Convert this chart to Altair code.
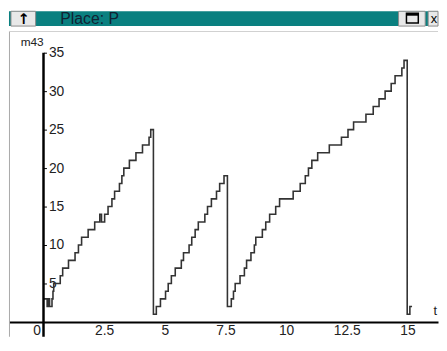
import altair as alt
import pandas as pd

# ---- data (time t, token count m43) ----
T = [0.00, 0.15, 0.20, 0.25, 0.35, 0.39, 0.42, 0.69, 0.79, 1.03, 1.30, 1.44, 1.57, 1.84,
     2.11, 2.32, 2.39, 2.52, 2.66, 2.82, 2.93, 3.13, 3.23, 3.31, 3.54, 3.81, 4.08, 4.35,
     4.42, 4.53,
     4.65, 4.82, 5.03, 5.14, 5.27, 5.43, 5.68, 5.77, 6.00, 6.11, 6.25, 6.38, 6.65, 6.76,
     6.92, 7.13, 7.26, 7.44, 7.58,
     7.74, 7.83, 7.90, 8.10, 8.28, 8.37, 8.55, 8.69, 8.75, 9.02, 9.16, 9.32, 9.57, 9.73,
     10.29, 10.58, 10.79, 10.92, 11.06, 11.30, 11.78, 12.28, 12.55, 12.78, 13.29, 13.59,
     13.83, 14.08, 14.33, 14.49, 14.77, 14.86, 14.99, 15.10, 15.19]
V = [3, 2, 3, 2, 3, 4, 5, 6, 7, 8, 9, 10, 11, 12,
     13, 14, 13, 14, 15, 16, 17, 18, 19, 20, 21, 22, 23, 24,
     25, 1,
     2, 3, 4, 5, 6, 7, 8, 9, 10, 11, 12, 13, 14, 15,
     16, 17, 18, 19, 2,
     3, 4, 5, 6, 7, 8, 9, 10, 11, 12, 13, 14, 15, 16,
     17, 18, 19, 20, 21, 22, 23, 24, 25, 26, 27, 28,
     29, 30, 31, 32, 33, 34, 1, 2, 2]

X_TICKS = [0, 2.5, 5, 7.5, 10, 12.5, 15]
Y_TICKS = [5, 10, 15, 20, 25, 30, 35]
X_LABEL = "t"
Y_LABEL = "m43"
WINDOW_TITLE = "Place: P"

# ---- layout ----
W = 435
H_BAR = 15
GAP = 3
H = 310
X0_PX = 35
PX_PER_T = 24.6
YTOP_PX = 22
Y0_PX = 295
T_MIN = -X0_PX / PX_PER_T
T_MAX = (W - X0_PX) / PX_PER_T
PX_PER_V = (Y0_PX - YTOP_PX) / Y_TICKS[-1]
V_MAX = Y_TICKS[-1] + YTOP_PX / PX_PER_V
V_MIN = -(H - Y0_PX) / PX_PER_V

FONT = "Liberation Sans"
LABEL_COLOR = "#222222"
TEAL = "#0a8080"

df = pd.DataFrame({"t": T, "v": V})
xscale = alt.Scale(domain=[T_MIN, T_MAX], nice=False, zero=False)
yscale = alt.Scale(domain=[V_MIN, V_MAX], nice=False, zero=False)

x_axis = alt.Axis(
    orient="bottom", offset=-(H - Y0_PX), values=X_TICKS, format=".1~f",
    domain=True, domainColor="#000000", domainWidth=2, ticks=False, grid=False,
    labelFont=FONT, labelFontSize=14, labelColor=LABEL_COLOR, labelPadding=2,
    labelFlush=False, labelOverlap=False,
    labelAlign={"condition": {"test": "datum.value == 0", "value": "right"}, "value": "center"},
    labelOffset={"condition": {"test": "datum.value == 0", "value": -3}, "value": 0},
    title=X_LABEL, titleX=W - 5, titleY=-12, titleAlign="left", titleBaseline="middle",
    titleFont=FONT, titleFontSize=13, titleFontWeight="normal", titleColor=LABEL_COLOR)
y_axis = alt.Axis(
    orient="right", offset=-(W - X0_PX), values=Y_TICKS,
    domain=False, ticks=True, tickSize=3, tickColor="#000000", tickWidth=1, grid=False,
    labelFont=FONT, labelFontSize=14, labelColor=LABEL_COLOR, labelPadding=2,
    labelFlush=False, labelOverlap=False, labelBaseline="middle",
    title=Y_LABEL, titleAngle=0, titleX=-12, titleY=11, titleAlign="center",
    titleBaseline="middle", titleFont=FONT, titleFontSize=12,
    titleFontWeight="normal", titleColor=LABEL_COLOR)

line = alt.Chart(df).mark_line(
    interpolate="step-after", color="#333333", strokeWidth=1.6
).encode(
    x=alt.X("t:Q", scale=xscale, axis=x_axis),
    y=alt.Y("v:Q", scale=yscale, axis=y_axis),
)

axis_df = pd.DataFrame({"t": [0], "v": [Y_TICKS[-1]]})
yaxis_line = alt.Chart(axis_df).mark_rule(color="#000000", strokeWidth=2.5).encode(
    x=alt.X("t:Q", scale=xscale, axis=x_axis),
    y=alt.Y("v:Q", scale=yscale, axis=y_axis),
    y2=alt.value(H),
)

one = pd.DataFrame({"k": [0]})
border_left = alt.Chart(one).mark_rule(color="#a8a8a8", strokeWidth=1).encode(
    x=alt.value(0.5), y=alt.value(0), y2=alt.value(H))
border_top = alt.Chart(one).mark_rule(color="#d0d0d0", strokeWidth=1).encode(
    x=alt.value(0), x2=alt.value(W), y=alt.value(0.5))

main = alt.layer(line, yaxis_line, border_left, border_top).properties(width=W, height=H)

# ---- window title bar ----
bar_bg = alt.Chart(one).mark_rect(color=TEAL).encode(
    x=alt.value(0), x2=alt.value(W), y=alt.value(0), y2=alt.value(H_BAR))
btn_up = alt.Chart(one).mark_rect(fill="#e8e8e8", stroke="#8a8a8a", strokeWidth=1).encode(
    x=alt.value(2), x2=alt.value(27), y=alt.value(0), y2=alt.value(H_BAR))
arrow = alt.Chart(one).mark_text(
    text="↑", font="DejaVu Sans", fontSize=15, fontWeight="bold", color="#000000",
    align="center", baseline="middle").encode(x=alt.value(15), y=alt.value(8))
title_txt = alt.Chart(one).mark_text(
    text=WINDOW_TITLE, font=FONT, fontSize=16, color="#112233",
    align="left", baseline="alphabetic").encode(x=alt.value(52), y=alt.value(13))
btn_max = alt.Chart(one).mark_rect(fill="#e8e8e8", stroke="#8a8a8a", strokeWidth=1).encode(
    x=alt.value(395), x2=alt.value(422), y=alt.value(0), y2=alt.value(H_BAR))
icon_box = alt.Chart(one).mark_rect(fillOpacity=0, stroke="#000000", strokeWidth=1.5).encode(
    x=alt.value(403), x2=alt.value(415), y=alt.value(2), y2=alt.value(12))
icon_top = alt.Chart(one).mark_rect(color="#000000").encode(
    x=alt.value(403), x2=alt.value(415), y=alt.value(2), y2=alt.value(4.5))
btn_close = alt.Chart(one).mark_rect(fill="#e8e8e8", stroke="#8a8a8a", strokeWidth=1).encode(
    x=alt.value(425), x2=alt.value(W), y=alt.value(0), y2=alt.value(H_BAR))
close_x = alt.Chart(one).mark_text(
    text="x", font=FONT, fontSize=13, color="#000000", align="center",
    baseline="middle").encode(x=alt.value(431), y=alt.value(8))

bar = alt.layer(bar_bg, btn_up, arrow, title_txt, btn_max, icon_box, icon_top,
                btn_close, close_x).properties(width=W, height=H_BAR)

chart = alt.vconcat(bar, main, spacing=GAP).properties(
    padding=0, background="white"
).configure_view(stroke=None)

chart.save("out.html", embed_options={"renderer": "svg", "actions": False})
